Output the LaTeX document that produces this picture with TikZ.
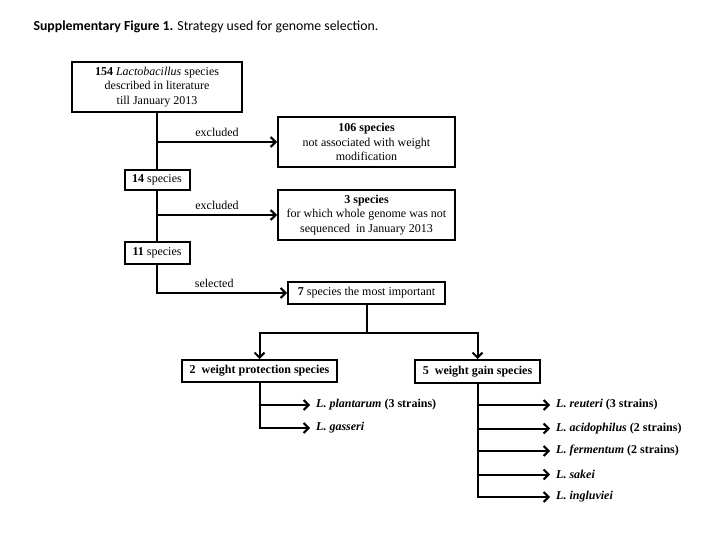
\documentclass[tikz,border=0pt]{standalone}
\usepackage{fontspec}
\setmainfont{Liberation Serif}
\newfontfamily\titlefont{Carlito}
\usepackage{tikz}
\usetikzlibrary{arrows.meta}
\usetikzlibrary{calc}

\begin{document}
\begin{tikzpicture}[x=1pt,y=-1pt,
    box/.style={draw,line width=2pt,align=center,inner sep=2pt,
      font=\fontsize{12}{14.5}\selectfont},
    arr/.style={line width=2pt,-{Straight Barb[length=5pt,width=10pt,line width=2pt]}},
    lbl/.style={font=\fontsize{12}{14}\selectfont},
    item/.style={anchor=west,inner ysep=2pt,inner xsep=6pt,font=\fontsize{12}{14}\selectfont\bfseries}]
        \useasboundingbox (0,0) rectangle (720,540);
        \node[anchor=west,font=\titlefont\fontsize{13.8}{16}\selectfont] (title) at (30,27)
          {\textbf{Supplementary Figure 1.} Strategy used for genome selection.};

        \node[box,minimum width=170pt,minimum height=50pt] (all) at (157,87)
          {\textbf{154} \textit{Lactobacillus} species\\described in literature\\till January 2013};
        \node[box,minimum width=177pt,minimum height=50pt] (notw) at (366.5,142)
          {\textbf{106 species}\\not associated with weight\\modification};
        \node[box,minimum width=65pt,minimum height=20pt] (n14) at (157,180) {\textbf{14} species};
        \node[box,minimum width=177pt,minimum height=50pt] (noseq) at (366.5,215)
          {\textbf{3 species}\\for which whole genome was not\\sequenced\ \ in January 2013};
        \node[box,minimum width=65pt,minimum height=22pt] (n11) at (157,253) {\textbf{11} species};
        \node[box,minimum width=157pt,minimum height=22pt] (n7) at (366.5,293)
          {\textbf{7} species the most important};

        \draw[line width=2pt] (all.south) -- (n14.north);
        \draw[arr] (all.south |- notw.west) -- node[lbl,above=1pt] {excluded} (notw.west);
        \draw[line width=2pt] (n14.south) -- (n11.north);
        \draw[arr] (n14.south |- noseq.west) -- node[lbl,above=1pt] {excluded} (noseq.west);
        \draw[arr] (n11.south) |- node[lbl,above=1pt,pos=0.72] {selected} (n7.west);

        \node[box,minimum width=155pt,minimum height=22pt] (prot) at (259.5,371)
          {\textbf{2\ \ weight protection species}};
        \node[box,minimum width=125pt,minimum height=23pt] (gain) at (477.5,371.5)
          {\textbf{5\ \ weight gain species}};
        \coordinate (fork) at ($(n7.south)+(0,28)$);
        \draw[line width=2pt] (n7.south) -- (fork);
        \draw[arr] (fork) -| (prot.north);
        \draw[arr] (fork) -| (gain.north);

        \node[item] (plan) at (310,405) {\textit{L. plantarum} (3 strains)};
        \node[item] (gass) at (310,428) {\textit{L. gasseri}};
        \draw[arr] (prot.south) |- (plan.west);
        \draw[arr] (prot.south) |- (gass.west);

        \node[item] (reut) at (550,405) {\textit{L. reuteri} (3 strains)};
        \node[item] (acid) at (550,428.5) {\textit{L. acidophilus} (2 strains)};
        \node[item] (ferm) at (550,451) {\textit{L. fermentum} (2 strains)};
        \node[item] (sake) at (550,474.5) {\textit{L. sakei}};
        \node[item] (ingl) at (550,497) {\textit{L. ingluviei}};
        \foreach \sp in {reut,acid,ferm,sake,ingl}
          \draw[arr] (gain.south) |- (\sp.west);
      \end{tikzpicture}
\end{document}
